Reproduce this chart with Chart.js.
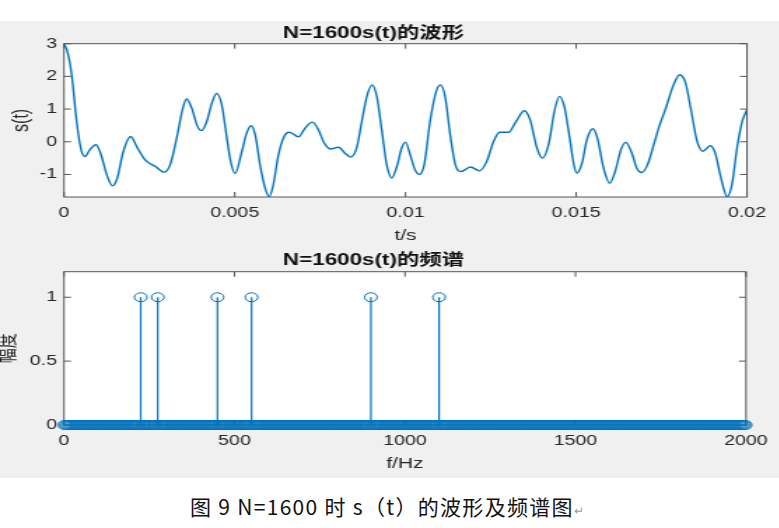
<!DOCTYPE html>
<html>
<head>
<meta charset="utf-8">
<script src="https://cdn.jsdelivr.net/npm/chart.js@4"></script>
<style>
  body { margin: 0; background: #fff; width: 779px; height: 528px; overflow: hidden; }
  #fig { position: absolute; left: 0; top: 21px; width: 779px; height: 457px; background: #f0f0f0; }
  /* the reference figure is stretched sideways, so draw narrow and widen */
  .plot { position: absolute; left: 0; width: 556.43px; transform: scaleX(1.4); transform-origin: 0 0; }
  #caption { position: absolute; left: 190px; top: 492px; font: 21px "Noto Sans CJK SC", sans-serif; color: #111; line-height: 28px; white-space: pre; letter-spacing: 1.3px; }
  #caption span { font-size: 12px; color: #999; }
</style>
</head>
<body>
<div id="fig"></div>
<div class="plot" style="top:0;height:250px"><canvas id="waveChart"></canvas></div>
<div class="plot" style="top:250px;height:228px"><canvas id="specChart"></canvas></div>
<div id="caption">图 9 N=1600 时 s（t）的波形及频谱图<span>↵</span></div>
<script>
// waveform s(t) (time in ms)
var timeMs = [0, 0.10, 0.225, 0.37, 0.50, 0.615, 0.76, 0.94, 1.07, 1.25, 1.42, 1.56, 1.74, 1.95, 2.15, 2.40, 2.67, 2.93,
  3.11, 3.30, 3.48, 3.59, 3.74, 3.91, 4.03, 4.18, 4.33, 4.47, 4.62, 4.77, 4.88, 5.01, 5.21, 5.35, 5.48, 5.60, 5.74, 5.89,
  6.01, 6.13, 6.28, 6.45, 6.60, 6.87, 7.06, 7.28, 7.45, 7.62, 7.80, 8.04, 8.23, 8.40, 8.57, 8.72, 8.87, 9.02, 9.16, 9.31,
  9.45, 9.60, 9.75, 9.89, 10.00, 10.14, 10.28, 10.41, 10.55, 10.72, 10.90, 11.02, 11.16, 11.31, 11.46, 11.63, 11.90, 12.17,
  12.38, 12.58, 12.76, 13.02, 13.21, 13.48, 13.65, 13.85, 14.01, 14.19, 14.36, 14.51, 14.65, 14.81, 14.93, 15.02, 15.17,
  15.31, 15.49, 15.62, 15.80, 15.98, 16.14, 16.31, 16.45, 16.63, 16.77, 16.92, 17.09, 17.27, 17.44, 17.64, 17.85, 18.03,
  18.20, 18.36, 18.54, 18.71, 18.93, 19.07, 19.24, 19.42, 19.56, 19.71, 19.86, 20.00];
var waveValues = [3.0, 2.76, 2.05, 0.62, -0.24, -0.45, -0.24, -0.09, -0.35, -1.0, -1.35, -1.11, -0.29, 0.16, -0.19, -0.58, -0.75, -0.93,
  -0.70, 0.11, 1.03, 1.31, 1.03, 0.47, 0.34, 0.62, 1.18, 1.48, 1.13, 0.11, -0.60, -0.97, -0.29, 0.27, 0.49, 0.21, -0.70, -1.42,
  -1.68, -1.31, -0.40, 0.17, 0.29, 0.15, 0.42, 0.60, 0.37, -0.04, -0.22, -0.17, -0.35, -0.47, -0.19, 0.62, 1.39, 1.74, 1.39, 0.32,
  -0.70, -1.11, -0.75, -0.19, -0.01, -0.40, -0.86, -1.0, -0.70, 0.62, 1.54, 1.74, 1.39, 0.21, -0.70, -0.91, -0.77, -0.89,
  -0.60, 0.01, 0.29, 0.29, 0.57, 0.95, 0.67, -0.19, -0.50, -0.09, 0.93, 1.39, 1.08, 0.11, -0.70, -0.96, -0.65,
  0.06, 0.40, 0.11, -0.80, -1.27, -0.91, -0.24, -0.02, -0.35, -0.80, -0.94, -0.70, -0.09, 0.50, 1.08, 1.74, 2.05,
  1.80, 0.98, 0.01, -0.29, -0.12, -0.35, -1.11, -1.68, -1.31, -0.19, 0.62, 0.98];
var timeTicksMs = [0, 5, 10, 15, 20];
var timeTickLabels = ['0', '0.005', '0.01', '0.015', '0.02'];
var waveTicks = [-1, 0, 1, 2, 3];

// spectrum: N = 1600 points, fs = 4000 Hz, only six bins are non zero
var N = 1600, fs = 4000;
var peakHz = [225, 275, 450, 550, 900, 1100];
var peakAmp = [1, 1, 1, 1, 1, 1];
var freqTicks = [0, 500, 1000, 1500, 2000];
var ampTicks = [0, 0.5, 1];

var blue = '#0072BD';
var axisColor = '#262626';
Chart.defaults.font.family = '"Liberation Sans", Arial, "Noto Sans CJK SC", sans-serif';
Chart.defaults.color = axisColor;

// white plot box, MATLAB style frame with ticks pointing inwards
var axesBox = {
  id: 'axesBox',
  beforeDraw: function(chart) {
    var a = chart.chartArea, ctx = chart.ctx;
    ctx.save();
    ctx.fillStyle = '#fff';
    ctx.fillRect(a.left, a.top, a.right - a.left, a.bottom - a.top);
    ctx.restore();
  },
  beforeDatasetsDraw: function(chart) {
    var a = chart.chartArea, ctx = chart.ctx, x = chart.scales.x, y = chart.scales.y;
    ctx.save();
    ctx.strokeStyle = '#555';
    ctx.lineWidth = 1;
    ctx.strokeRect(a.left, a.top, a.right - a.left, a.bottom - a.top);
    ctx.beginPath();
    x.ticks.forEach(function(t) {
      var px = x.getPixelForValue(t.value);
      ctx.moveTo(px, a.bottom); ctx.lineTo(px, a.bottom - 5);
      ctx.moveTo(px, a.top); ctx.lineTo(px, a.top + 5);
    });
    y.ticks.forEach(function(t) {
      var py = y.getPixelForValue(t.value);
      ctx.moveTo(a.left, py); ctx.lineTo(a.left + 5, py);
      ctx.moveTo(a.right, py); ctx.lineTo(a.right - 5, py);
    });
    ctx.stroke();
    ctx.restore();
  }
};

function fixedTicks(list) {
  return function(scale) { scale.ticks = list.map(function(v) { return { value: v }; }); };
}
function plainLabel(v) { return String(v); }

var wavePoints = timeMs.map(function(t, i) { return { x: t, y: waveValues[i] }; });

new Chart(document.getElementById('waveChart'), {
  type: 'line',
  data: {
    datasets: [{
      data: wavePoints,
      borderColor: blue,
      borderWidth: 1.4,
      pointRadius: 0,
      cubicInterpolationMode: 'monotone'
    }]
  },
  options: {
    responsive: true,
    maintainAspectRatio: false,
    animation: false,
    layout: { padding: { left: 0, right: 22.86, top: 21, bottom: 0 } },
    plugins: {
      legend: { display: false },
      tooltip: { enabled: false },
      title: {
        display: true,
        text: 'N=1600s(t)的波形',
        color: '#111',
        font: { size: 16, weight: 'bold', lineHeight: 1.1 },
        padding: { top: 3.4, bottom: 1.7 }
      }
    },
    scales: {
      x: {
        type: 'linear', min: 0, max: 20,
        afterBuildTicks: fixedTicks(timeTicksMs),
        afterFit: function(s) { s.height = 53; },
        grid: { display: false, drawTicks: false },
        border: { display: false },
        ticks: { padding: 8, maxRotation: 0, font: { size: 14 },
          callback: function(v, i) { return timeTickLabels[i]; } },
        title: { display: true, text: 't/s', font: { size: 15 }, padding: { bottom: 5 } }
      },
      y: {
        min: -1.69, max: 3,
        afterBuildTicks: fixedTicks(waveTicks),
        afterFit: function(s) { s.width = 45.71; },
        grid: { display: false, drawTicks: false },
        border: { display: false },
        ticks: { padding: 5, font: { size: 14 }, callback: plainLabel },
        title: { display: true, text: 's(t)', font: { size: 16 }, padding: { top: 6 } }
      }
    }
  },
  plugins: [axesBox]
});

// bins of the one sided spectrum
var binHz = [], binAmp = [];
for (var k = 0; k <= N / 2; k++) {
  var f = k * fs / N;
  var p = peakHz.indexOf(f);
  binHz.push(f);
  binAmp.push(p >= 0 ? peakAmp[p] : 0);
}
var zeroBins = [], peakBins = [], stemLines = [];
binHz.forEach(function(f, i) {
  if (binAmp[i] === 0) zeroBins.push({ x: f, y: 0 });
  else {
    peakBins.push({ x: f, y: binAmp[i] });
    stemLines.push({ x: f, y: 0 }, { x: f, y: binAmp[i] }, { x: f, y: null });
  }
});

new Chart(document.getElementById('specChart'), {
  type: 'scatter',
  data: {
    datasets: [{
      type: 'line',
      data: stemLines,
      borderColor: blue,
      borderWidth: 1.2,
      pointRadius: 0,
      spanGaps: false
    }, {
      data: peakBins,
      pointStyle: 'circle',
      pointRadius: 4.5,
      borderWidth: 1,
      borderColor: blue,
      backgroundColor: 'rgba(0,0,0,0)',
      clip: false
    }, {
      data: zeroBins,
      pointStyle: 'circle',
      pointRadius: 4.5,
      borderWidth: 0.6,
      borderColor: blue,
      backgroundColor: 'rgba(0,0,0,0)',
      clip: false
    }]
  },
  options: {
    responsive: true,
    maintainAspectRatio: false,
    animation: false,
    layout: { padding: { left: 0, right: 22.86, top: 0, bottom: 0 } },
    plugins: {
      legend: { display: false },
      tooltip: { enabled: false },
      title: {
        display: true,
        text: 'N=1600s(t)的频谱',
        color: '#111',
        font: { size: 16, weight: 'bold', lineHeight: 1.1 },
        padding: { top: 1.9, bottom: 2.2 }
      }
    },
    scales: {
      x: {
        type: 'linear', min: 0, max: 2000,
        afterBuildTicks: fixedTicks(freqTicks),
        afterFit: function(s) { s.height = 53; },
        grid: { display: false, drawTicks: false },
        border: { display: false },
        ticks: { padding: 8, maxRotation: 0, font: { size: 14 }, callback: plainLabel },
        title: { display: true, text: 'f/Hz', font: { size: 15 }, padding: { bottom: 5 } }
      },
      y: {
        min: 0, max: 1.2,
        afterBuildTicks: fixedTicks(ampTicks),
        afterFit: function(s) { s.width = 45.71; },
        grid: { display: false, drawTicks: false },
        border: { display: false },
        ticks: { padding: 5, font: { size: 14 }, callback: plainLabel },
        title: { display: true, text: '幅度', font: { size: 15, lineHeight: 1 }, padding: { top: -2 } }
      }
    }
  },
  plugins: [axesBox]
});
</script>
</body>
</html>
